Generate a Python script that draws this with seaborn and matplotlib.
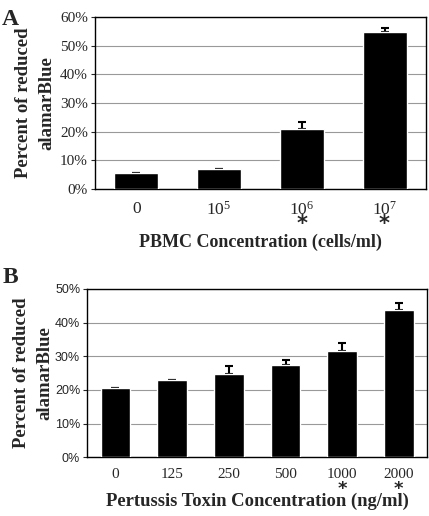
import numpy as np
import pandas as pd
import matplotlib
matplotlib.use('Agg')
import matplotlib.pyplot as plt
import seaborn as sns
from matplotlib.ticker import PercentFormatter

sns.set_style('white')
plt.rcParams['font.family'] = ['Liberation Serif', 'DejaVu Serif']
plt.rcParams['mathtext.fontset'] = 'custom'
plt.rcParams['mathtext.rm'] = 'Liberation Serif'
plt.rcParams['mathtext.it'] = 'Liberation Serif'
plt.rcParams['mathtext.bf'] = 'DejaVu Sans:bold'

# panel A - PBMC
pbmc_labels = ['0', '$10^5$', '$10^6$', '$10^7$']
pbmc_mean = [5.5, 6.8, 21.0, 54.8]
pbmc_err = [0.2, 0.2, 2.4, 1.5]
pbmc_sig = [False, False, True, True]

# panel B - pertussis toxin
ptx_labels = ['0', '125', '250', '500', '1000', '2000']
ptx_mean = [20.7, 22.9, 24.7, 27.3, 31.7, 43.8]
ptx_err = [0.0, 0.0, 2.3, 1.5, 2.2, 1.9]
ptx_sig = [False, False, False, False, True, True]

fig = plt.figure(figsize=(4.29, 5.16), dpi=100)
axA = fig.add_axes([0.221, 0.634, 0.772, 0.333])
axB = fig.add_axes([0.203, 0.114, 0.793, 0.326])


def draw(ax, labels, mean, err, sig, ymax, xlabel, xlsize, xlpad, ylpad,
         ytick_font, ytick_size, xtick_size, xtick_pad, width, star_off, star_size):
    df = pd.DataFrame({'conc': labels, 'val': mean})
    sns.barplot(data=df, x='conc', y='val', color='black', width=width,
                saturation=1, ax=ax, zorder=3)
    xs = [p.get_x() + p.get_width() / 2 for p in ax.patches]
    ax.errorbar(xs, mean, yerr=[np.zeros(len(err)), err], fmt='none',
                ecolor='black', elinewidth=1.5, capsize=3, capthick=1.5, zorder=2)
    ax.set_ylim(0, ymax)
    ax.set_yticks(np.arange(0, ymax + 1, 10))
    ax.yaxis.set_major_formatter(PercentFormatter(decimals=0))
    ax.grid(axis='y', color='#999999', linewidth=0.8, zorder=0)
    ax.set_axisbelow(True)
    for s in ax.spines.values():
        s.set_visible(True)
        s.set_color('black')
        s.set_linewidth(1.0)
    ax.tick_params(axis='y', which='both', left=True, length=3, width=0.8,
                   labelsize=ytick_size, pad=2)
    ax.tick_params(axis='x', bottom=False, labelsize=xtick_size, pad=xtick_pad)
    for t in ax.get_yticklabels():
        t.set_family(ytick_font)
    ax.set_xlabel(xlabel, fontsize=xlsize, fontweight='bold', labelpad=xlpad)
    ax.set_ylabel('Percent of reduced\nalamarBlue', fontsize=13.5, fontweight='bold',
                  labelpad=ylpad, linespacing=1.5)
    # significance stars between tick labels and axis title
    for x, s in zip(xs, sig):
        if s:
            ax.annotate(r'$\mathbf{*}$', xy=(x, 0), xycoords=('data', 'axes fraction'),
                        xytext=(0, star_off), textcoords='offset points',
                        ha='center', va='center', fontsize=star_size)


draw(axA, pbmc_labels, pbmc_mean, pbmc_err, pbmc_sig, 60,
     'PBMC Concentration (cells/ml)', 13, 11, 3, 'Liberation Serif', 11, 12.5, 5,
     0.53, -25, 15)
draw(axB, ptx_labels, ptx_mean, ptx_err, ptx_sig, 50,
     'Pertussis Toxin Concentration (ng/ml)', 13.4, 9, 1, 'Liberation Sans', 9, 11, 4,
     0.52, -21.5, 13)
axA.set_xlim(-0.5, 3.5)
axB.set_xlim(-0.5, 5.5)

fig.text(0.005, 0.982, 'A', fontsize=17, fontweight='bold', va='top')
fig.text(0.005, 0.482, 'B', fontsize=17, fontweight='bold', va='top')

fig.savefig('out.png', dpi=100)
